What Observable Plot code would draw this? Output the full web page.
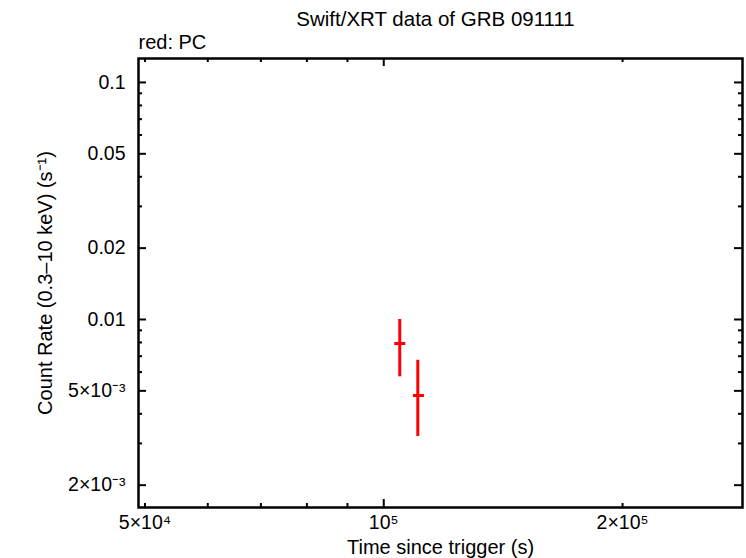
<!DOCTYPE html>
<html>
<head>
<meta charset="utf-8">
<script src="https://cdn.jsdelivr.net/npm/d3@7"></script>
<script src="https://cdn.jsdelivr.net/npm/@observablehq/plot@0.6"></script>
<style>
  html, body { margin: 0; padding: 0; background: #fff; }
  #chart svg { display: block; font-family: "Liberation Sans", Arial, sans-serif; }
</style>
</head>
<body>
<div id="chart"></div>
<script>
// ---- data ----
const titleText = "Swift/XRT data of GRB 091111";
const subtitleText = "red: PC";
const xLabelText = "Time since trigger (s)";
const yLabelText = "Count Rate (0.3\u201310 keV) (s\u207B\u00B9)";

// PC mode points: time (s), time err low/high, rate, rate err low/high
const pcTime   = [104750, 110380];
const pcTimeLo = [103250, 109000];
const pcTimeHi = [106600, 112540];
const pcRate   = [0.00792, 0.00478];
const pcRateLo = [0.00573, 0.00321];
const pcRateHi = [0.0100, 0.00673];

const xDomain = [49070, 283300];
const yDomain = [0.00161, 0.1262];

const xMajorTicks = [1e5];
const xMinorTicks = [5e4, 6e4, 7e4, 8e4, 9e4, 2e5];
const xTickLabels = [5e4, 1e5, 2e5];
const xTickText = ["5\u00D710\u2074", "10\u2075", "2\u00D710\u2075"];

const yMajorTicks = [0.1, 0.05, 0.02, 0.01, 0.005, 0.002];
const yMinorTicks = [0.09, 0.08, 0.07, 0.06, 0.04, 0.03, 0.009, 0.008, 0.007, 0.006, 0.004, 0.003];
const yTickText = ["0.1", "0.05", "0.02", "0.01", "5\u00D710\u207B\u00B3", "2\u00D710\u207B\u00B3"];

const pc = pcTime.map((t, i) => ({t, t0: pcTimeLo[i], t1: pcTimeHi[i], r: pcRate[i], r0: pcRateLo[i], r1: pcRateHi[i]}));

// ---- layout ----
const W = 746, H = 558;
const mL = 138, mR = 4, mT = 58, mB = 51;
const innerW = W - mL - mR, innerH = H - mT - mB;
const majorLen = 8, minorLen = 4;
const font = 19.5;

const chart = Plot.plot({
  width: W,
  height: H,
  marginLeft: mL,
  marginRight: mR,
  marginTop: mT,
  marginBottom: mB,
  style: {fontFamily: "'Liberation Sans', Arial, sans-serif", background: "#fff", color: "#000"},
  x: {type: "log", domain: xDomain, axis: null},
  y: {type: "log", domain: yDomain, axis: null},
  marks: [
    // ticks bottom/top
    Plot.tickX(xMajorTicks, {x: d => d, stroke: "#000", strokeWidth: 2, insetTop: innerH - majorLen}),
    Plot.tickX(xMinorTicks, {x: d => d, stroke: "#000", strokeWidth: 2, insetTop: innerH - minorLen}),
    Plot.tickX(xMajorTicks, {x: d => d, stroke: "#000", strokeWidth: 2, insetBottom: innerH - majorLen}),
    Plot.tickX(xMinorTicks, {x: d => d, stroke: "#000", strokeWidth: 2, insetBottom: innerH - minorLen}),
    // ticks left/right
    Plot.tickY(yMajorTicks, {y: d => d, stroke: "#000", strokeWidth: 2, insetRight: innerW - majorLen}),
    Plot.tickY(yMinorTicks, {y: d => d, stroke: "#000", strokeWidth: 2, insetRight: innerW - minorLen}),
    Plot.tickY(yMajorTicks, {y: d => d, stroke: "#000", strokeWidth: 2, insetLeft: innerW - majorLen}),
    Plot.tickY(yMinorTicks, {y: d => d, stroke: "#000", strokeWidth: 2, insetLeft: innerW - minorLen}),
    Plot.frame({stroke: "#000", strokeWidth: 2.5}),
    // tick labels
    Plot.text(xTickLabels, {x: d => d, text: (d, i) => xTickText[i], frameAnchor: "bottom", lineAnchor: "middle", dy: 15, fontSize: font, fill: "#000"}),
    Plot.text(yMajorTicks, {y: d => d, text: (d, i) => yTickText[i], frameAnchor: "left", textAnchor: "end", lineAnchor: "middle", dx: -13, fontSize: font, fill: "#000"}),
    // axis labels, title
    Plot.text([xLabelText], {text: d => d, frameAnchor: "bottom", lineAnchor: "middle", dy: 40, fontSize: 20, fill: "#000"}),
    Plot.text([yLabelText], {text: d => d, frameAnchor: "left", textAnchor: "middle", lineAnchor: "middle", dx: -93, rotate: -90, fontSize: 20, fill: "#000"}),
    Plot.text([titleText], {text: d => d, frameAnchor: "top", lineAnchor: "middle", dx: -5, dy: -39, fontSize: 20.5, fill: "#000"}),
    Plot.text([subtitleText], {text: d => d, frameAnchor: "top-left", textAnchor: "start", lineAnchor: "middle", dy: -16, fontSize: 20, fill: "#000"}),
    // data error bars
    Plot.ruleX(pc, {x: "t", y1: "r0", y2: "r1", stroke: "#ff0000", strokeWidth: 3}),
    Plot.ruleY(pc, {y: "r", x1: "t0", x2: "t1", stroke: "#ff0000", strokeWidth: 3})
  ]
});
document.getElementById("chart").appendChild(chart);
</script>
</body>
</html>
